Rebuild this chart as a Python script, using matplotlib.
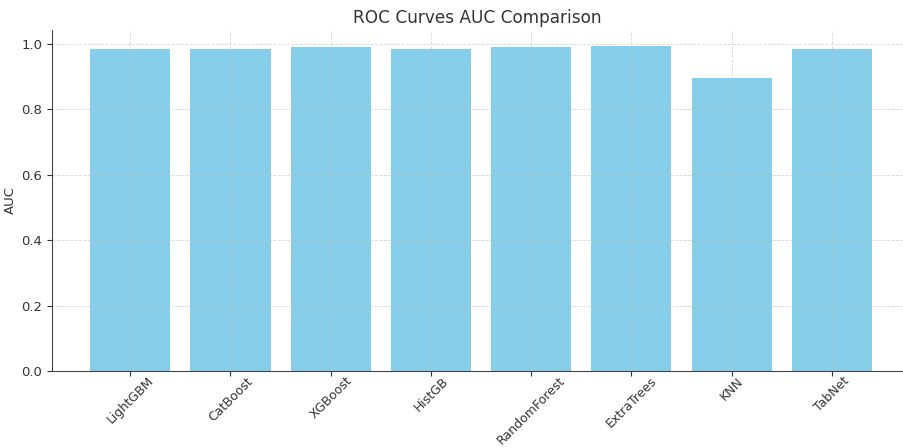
import matplotlib
matplotlib.use('Agg')
import matplotlib.pyplot as plt

# datos
modelos = ['LightGBM', 'CatBoost', 'XGBoost', 'HistGB', 'RandomForest', 'ExtraTrees', 'KNN', 'TabNet']
auc = [0.984, 0.984, 0.989, 0.985, 0.989, 0.992, 0.894, 0.985]

plt.rcParams['font.family'] = ['DejaVu Sans']
fig = plt.figure(figsize=(9.04, 4.48), dpi=100)
ax = fig.add_axes([52/904, 77/448, (903-52)/904, (371-30)/448])

ax.bar(modelos, auc, width=0.8, color='skyblue', zorder=1)
ax.set_xlim(-0.78, 7.71)

ax.set_title('ROC Curves AUC Comparison', fontsize=12.2, color='#333333', pad=5)
ax.set_ylabel('AUC', fontsize=9.5, color='#333333', labelpad=3)
ax.tick_params(axis='x', labelrotation=45, labelsize=9.0, colors='#333333', pad=-1)
ax.tick_params(axis='y', labelsize=9.5, colors='#333333')
for lbl in ax.get_xticklabels():
    lbl.set_ha('center')

ax.grid(True, linestyle='--', linewidth=0.6, color='#bbbbbb', alpha=0.6, zorder=2)
ax.set_axisbelow(False)
for s in ['top', 'right']:
    ax.spines[s].set_visible(False)
for s in ['left', 'bottom']:
    ax.spines[s].set_color('#444444')

fig.savefig('out.png', dpi=100)
